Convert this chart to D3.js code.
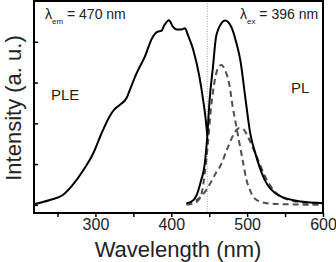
<!DOCTYPE html>
<html>
<head>
<meta charset="utf-8">
<script src="https://cdn.jsdelivr.net/npm/d3@7"></script>
<style>
  body { margin: 0; background: #fff; }
  svg { display: block; }
</style>
</head>
<body>
<script>
// Data (wavelength in nm, intensity in arbitrary units)
const pleWl  = [220, 240, 257, 270, 284, 297, 308, 319, 325, 332, 341, 345, 354, 365, 375, 382, 387, 391, 397, 402, 407, 413, 418, 422, 429, 437, 442, 445, 447.5];
const pleInt = [0.02, 0.12, 0.24, 0.49, 0.85, 1.26, 1.75, 2.18, 2.34, 2.45, 2.62, 2.80, 3.22, 3.63, 4.10, 4.25, 4.27, 4.41, 4.53, 4.37, 4.30, 4.30, 4.33, 4.16, 3.80, 3.15, 2.57, 2.16, 1.70];

const plWl  = [420, 426, 433, 439, 444, 447.5, 450.5, 455, 459, 466, 471, 479, 486, 491, 498, 504, 511, 523, 541, 571, 600];
const plInt = [0.04, 0.07, 0.22, 0.58, 0.99, 1.70, 2.57, 3.39, 4.12, 4.45, 4.52, 4.37, 3.96, 3.55, 2.57, 1.76, 1.25, 0.62, 0.24, 0.08, 0.04];

// Gaussian components of PL (dashed)
const fit1Wl  = [420, 430, 436, 440, 444, 448, 452, 456, 461, 466, 471, 477, 481, 486, 490, 495, 499, 504, 508, 517, 530, 560, 600];
const fit1Int = [0.00, 0.04, 0.12, 0.28, 0.75, 1.45, 2.30, 2.90, 3.33, 3.43, 3.30, 2.90, 2.40, 1.90, 1.50, 1.00, 0.62, 0.35, 0.20, 0.08, 0.03, 0.01, 0.00];

const fit2Wl  = [420, 430, 440, 446, 452, 460, 464, 475, 484, 489, 495, 501, 507, 514, 523, 539, 556, 583, 600];
const fit2Int = [0.02, 0.08, 0.22, 0.36, 0.55, 0.82, 0.93, 1.43, 1.79, 1.88, 1.85, 1.67, 1.42, 1.12, 0.72, 0.28, 0.12, 0.04, 0.02];

const xTicks = [250, 300, 350, 400, 450, 500, 550, 600];
const xLabels = [300, 400, 500, 600];
const yTicks = [0, 1, 2, 3, 4];
const markerWl = 447.5;

// Layout
const width = 336, height = 262;
const x = d3.scaleLinear().domain([219, 600]).range([34, 323]);
const y = d3.scaleLinear().domain([-0.2, 5]).range([213, 1]);

const svg = d3.select("body").append("svg")
  .attr("width", width)
  .attr("height", height)
  .style("font-family", "'Liberation Sans', Arial, sans-serif");

const zip = (a, b) => a.map((v, i) => [v, b[i]]);
const line = d3.line()
  .x(d => x(d[0]))
  .y(d => y(d[1]))
  .curve(d3.curveMonotoneX);

// dotted marker line
svg.append("line")
  .attr("x1", x(markerWl)).attr("x2", x(markerWl))
  .attr("y1", y.range()[1]).attr("y2", y.range()[0])
  .attr("stroke", "#888")
  .attr("stroke-width", 0.8)
  .attr("stroke-dasharray", "1,1.5");

// fitted components
[[fit1Wl, fit1Int], [fit2Wl, fit2Int]].forEach(([w, v]) => {
  svg.append("path")
    .datum(zip(w, v))
    .attr("d", line)
    .attr("fill", "none")
    .attr("stroke", "#505050")
    .attr("stroke-width", 2)
    .attr("stroke-dasharray", "6,4");
});

// measured spectra
[[pleWl, pleInt], [plWl, plInt]].forEach(([w, v]) => {
  svg.append("path")
    .datum(zip(w, v))
    .attr("d", line)
    .attr("fill", "none")
    .attr("stroke", "#000")
    .attr("stroke-width", 2)
    .attr("stroke-linejoin", "round");
});

// frame
svg.append("rect")
  .attr("x", x.range()[0]).attr("y", y.range()[1])
  .attr("width", x.range()[1] - x.range()[0])
  .attr("height", y.range()[0] - y.range()[1])
  .attr("fill", "none")
  .attr("stroke", "#000")
  .attr("stroke-width", 2);

// x axis
const xAxis = svg.append("g")
  .attr("transform", `translate(0, ${y.range()[0]})`)
  .call(d3.axisBottom(x).tickValues(xTicks).tickSize(4)
    .tickFormat(d => xLabels.includes(d) ? d : ""));
xAxis.select(".domain").remove();
xAxis.selectAll(".tick line").attr("stroke-width", 1.5);
xAxis.selectAll(".tick text")
  .attr("font-size", 16)
  .attr("font-family", "'Liberation Sans', Arial, sans-serif")
  .attr("fill", "#222")
  .attr("dy", "0.3em")
  .attr("y", 12);

// y axis, ticks inside
const yAxis = svg.append("g")
  .attr("transform", `translate(${x.range()[0]}, 0)`)
  .call(d3.axisRight(y).tickValues(yTicks).tickSize(4).tickFormat(""));
yAxis.select(".domain").remove();
yAxis.selectAll(".tick line").attr("stroke-width", 1.5);

// axis titles
svg.append("text")
  .attr("x", 178).attr("y", 256.5)
  .attr("text-anchor", "middle")
  .attr("font-size", 22)
  .attr("fill", "#222")
  .text("Wavelength (nm)");

svg.append("text")
  .attr("transform", "translate(21, 108) rotate(-90)")
  .attr("text-anchor", "middle")
  .attr("font-size", 22)
  .attr("fill", "#222")
  .text("Intensity (a. u.)");

// annotations
function lambdaLabel(px, py, sub, rest) {
  const t = svg.append("text").attr("x", px).attr("y", py).attr("fill", "#222").attr("font-size", 14);
  t.append("tspan").text("λ");
  t.append("tspan").attr("font-size", 8).attr("dy", 5).text(sub);
  t.append("tspan").attr("dy", -5).text(" " + rest);
}
lambdaLabel(45, 19, "em", "= 470 nm");
lambdaLabel(240, 19, "ex", "= 396 nm");

svg.append("text").attr("x", 51).attr("y", 100).attr("font-size", 15).attr("fill", "#222").text("PLE");
svg.append("text").attr("x", 291).attr("y", 93).attr("font-size", 15).attr("fill", "#222").text("PL");
</script>
</body>
</html>
